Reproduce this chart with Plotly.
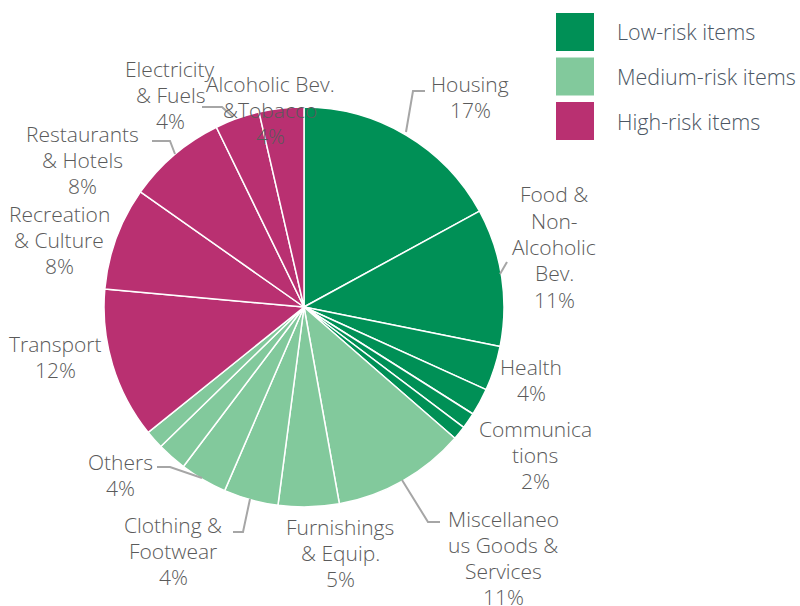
import plotly.graph_objects as go

# ---- data ----
categories = ["Housing", "Food & Non-Alcoholic Bev.", "Health", "Communications", "Education",
              "Other low-risk", "Miscellaneous Goods & Services", "Furnishings & Equip.",
              "Clothing & Footwear", "Others", "Other medium-risk 1", "Other medium-risk 2",
              "Transport", "Recreation & Culture", "Restaurants & Hotels",
              "Electricity & Fuels", "Alcoholic Bev. &Tobacco"]
values = [17.0, 11.1, 3.6, 2.2, 1.3, 1.1, 10.75, 4.9, 4.4, 3.8, 2.4, 1.5,
          12.2, 8.3, 8.0, 3.6, 3.6]
risk = ["low"] * 6 + ["medium"] * 6 + ["high"] * 5
# wrapped display names for labelled slices ("" = no label)
display_names = ["Housing", "Food &|Non-|Alcoholic|Bev.", "Health", "Communica|tions", "", "",
                 "Miscellaneo|us Goods &|Services", "Furnishings|& Equip.",
                 "Clothing &|Footwear", "Others", "", "",
                 "Transport", "Recreation|& Culture", "Restaurants|& Hotels",
                 "Electricity|& Fuels", "Alcoholic Bev.|&Tobacco"]
legend_names = ["Low-risk items", "Medium-risk items", "High-risk items"]

# ---- style ----
W, H = 800, 606
colors = {"low": "#009056", "medium": "#82c99c", "high": "#b93071"}
label_color = "#5a5a5a"
legend_text_color = "#4b5663"
FONT = "Open Sans"
LINE = 26.3

def px(x, y):
    return x / W, 1 - y / H

fig = go.Figure()
fig.add_trace(go.Pie(
    labels=categories, values=values, sort=False, direction="clockwise", rotation=0,
    marker=dict(colors=[colors[r] for r in risk], line=dict(color="white", width=1.5)),
    textinfo="none", hoverinfo="label+percent", showlegend=False,
    domain=dict(x=[104 / W, 504 / W], y=[1 - 507 / H, 1 - 107 / H]),
))

# label positions (pixel centres) for labelled slices
label_pos = {
    0: (470, 97), 1: (554, 247), 2: (531, 380), 3: (535, 455), 6: (503, 558),
    7: (340, 553), 8: (173, 551), 9: (120, 475), 12: (55, 357), 13: (59, 240),
    14: (82, 160), 15: (170, 95), 16: (270, 110),
}
total = sum(values)
annotations = []
for i, name in enumerate(display_names):
    if not name:
        continue
    pct = round(values[i] / total * 100)
    lines = name.split("|") + [f"{pct}%"]
    cx, cy = label_pos[i]
    n = len(lines)
    for j, ln in enumerate(lines):
        x, y = px(cx, cy + (j - (n - 1) / 2) * LINE)
        annotations.append(dict(x=x, y=y, xref="paper", yref="paper", showarrow=False,
                                text=ln, xanchor="center", yanchor="middle",
                                font=dict(family=FONT, size=21, color=label_color, weight=300)))

# leader lines (pixel paths)
leaders = [
    [(406, 132), (413, 91), (425, 91)],
    [(500, 274), (507, 262)],
    [(402, 480), (428, 522), (440, 522)],
    [(250, 499), (243, 532), (233, 532)],
    [(157, 467), (170, 467), (202, 478)],
    [(152, 141), (170, 141), (175, 154)],
    [(202, 107), (222, 107), (233, 117)],
]
shapes = []
for pts in leaders:
    path = "M " + " L ".join(f"{px(a, b)[0]:.5f},{px(a, b)[1]:.5f}" for a, b in pts)
    shapes.append(dict(type="path", path=path, xref="paper", yref="paper",
                       line=dict(color="#a6a6a6", width=2)))

# legend boxes
for k, (risk_key, name) in enumerate(zip(["low", "medium", "high"], legend_names)):
    top = 13 + k * 44.5
    x0, y0 = px(556, top)
    x1, y1 = px(594, top + 38)
    shapes.append(dict(type="rect", xref="paper", yref="paper", x0=x0, x1=x1, y0=y1, y1=y0,
                       fillcolor=colors[risk_key], line=dict(width=0)))
    tx, ty = px(615, top + 19)
    annotations.append(dict(x=tx, y=ty, xref="paper", yref="paper", showarrow=False,
                            text=name, xanchor="left", yanchor="middle",
                            font=dict(family=FONT, size=21.5, color=legend_text_color, weight=300)))

fig.update_layout(
    width=W, height=H, margin=dict(l=0, r=0, t=0, b=0),
    paper_bgcolor="white", plot_bgcolor="white",
    annotations=annotations, shapes=shapes, showlegend=False,
)
fig.write_html("out.html")
